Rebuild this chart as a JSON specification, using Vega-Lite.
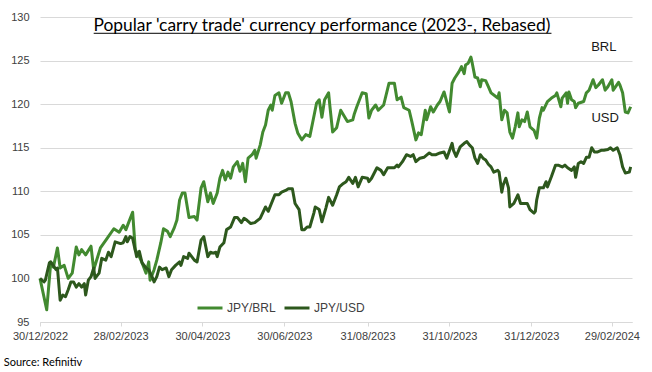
{
  "$schema": "https://vega.github.io/schema/vega-lite/v6.json",
  "width": 592,
  "height": 305,
  "autosize": "none",
  "padding": {"left": 40, "top": 17, "right": 20, "bottom": 50},
  "background": "white",
  "data": {"values": [{}]},
  "config": {
    "view": {"stroke": null},
    "font": "Liberation Sans"
  },
  "datasets": {
    "fx": [
      {"d":"2022-12-30","s":"JPY/BRL","v":100.0},
      {"d":"2023-01-04","s":"JPY/BRL","v":96.4},
      {"d":"2023-01-07","s":"JPY/BRL","v":101.8},
      {"d":"2023-01-09","s":"JPY/BRL","v":101.3},
      {"d":"2023-01-12","s":"JPY/BRL","v":103.5},
      {"d":"2023-01-14","s":"JPY/BRL","v":101.2},
      {"d":"2023-01-17","s":"JPY/BRL","v":101.5},
      {"d":"2023-01-20","s":"JPY/BRL","v":100.0},
      {"d":"2023-01-23","s":"JPY/BRL","v":100.6},
      {"d":"2023-01-26","s":"JPY/BRL","v":103.6},
      {"d":"2023-01-28","s":"JPY/BRL","v":102.7},
      {"d":"2023-01-30","s":"JPY/BRL","v":103.3},
      {"d":"2023-02-02","s":"JPY/BRL","v":102.7},
      {"d":"2023-02-06","s":"JPY/BRL","v":103.7},
      {"d":"2023-02-08","s":"JPY/BRL","v":101.0},
      {"d":"2023-02-13","s":"JPY/BRL","v":103.5},
      {"d":"2023-02-18","s":"JPY/BRL","v":104.6},
      {"d":"2023-02-23","s":"JPY/BRL","v":105.7},
      {"d":"2023-02-27","s":"JPY/BRL","v":105.3},
      {"d":"2023-03-02","s":"JPY/BRL","v":106.1},
      {"d":"2023-03-04","s":"JPY/BRL","v":105.6},
      {"d":"2023-03-06","s":"JPY/BRL","v":106.4},
      {"d":"2023-03-09","s":"JPY/BRL","v":107.6},
      {"d":"2023-03-11","s":"JPY/BRL","v":103.3},
      {"d":"2023-03-14","s":"JPY/BRL","v":102.5},
      {"d":"2023-03-16","s":"JPY/BRL","v":101.8},
      {"d":"2023-03-19","s":"JPY/BRL","v":100.6},
      {"d":"2023-03-21","s":"JPY/BRL","v":101.9},
      {"d":"2023-03-22","s":"JPY/BRL","v":99.8},
      {"d":"2023-03-25","s":"JPY/BRL","v":101.0},
      {"d":"2023-03-27","s":"JPY/BRL","v":102.1},
      {"d":"2023-03-30","s":"JPY/BRL","v":104.1},
      {"d":"2023-04-01","s":"JPY/BRL","v":105.7},
      {"d":"2023-04-04","s":"JPY/BRL","v":105.4},
      {"d":"2023-04-06","s":"JPY/BRL","v":104.8},
      {"d":"2023-04-09","s":"JPY/BRL","v":105.8},
      {"d":"2023-04-11","s":"JPY/BRL","v":106.7},
      {"d":"2023-04-13","s":"JPY/BRL","v":109.0},
      {"d":"2023-04-15","s":"JPY/BRL","v":109.8},
      {"d":"2023-04-17","s":"JPY/BRL","v":109.8},
      {"d":"2023-04-20","s":"JPY/BRL","v":107.0},
      {"d":"2023-04-24","s":"JPY/BRL","v":107.1},
      {"d":"2023-04-26","s":"JPY/BRL","v":106.7},
      {"d":"2023-04-29","s":"JPY/BRL","v":110.4},
      {"d":"2023-05-01","s":"JPY/BRL","v":111.1},
      {"d":"2023-05-04","s":"JPY/BRL","v":108.8},
      {"d":"2023-05-06","s":"JPY/BRL","v":109.8},
      {"d":"2023-05-08","s":"JPY/BRL","v":108.6},
      {"d":"2023-05-11","s":"JPY/BRL","v":109.8},
      {"d":"2023-05-13","s":"JPY/BRL","v":111.5},
      {"d":"2023-05-15","s":"JPY/BRL","v":112.4},
      {"d":"2023-05-17","s":"JPY/BRL","v":111.3},
      {"d":"2023-05-19","s":"JPY/BRL","v":112.2},
      {"d":"2023-05-21","s":"JPY/BRL","v":111.5},
      {"d":"2023-05-23","s":"JPY/BRL","v":112.8},
      {"d":"2023-05-26","s":"JPY/BRL","v":113.4},
      {"d":"2023-05-28","s":"JPY/BRL","v":112.3},
      {"d":"2023-05-30","s":"JPY/BRL","v":113.2},
      {"d":"2023-06-01","s":"JPY/BRL","v":111.1},
      {"d":"2023-06-03","s":"JPY/BRL","v":113.8},
      {"d":"2023-06-06","s":"JPY/BRL","v":114.2},
      {"d":"2023-06-08","s":"JPY/BRL","v":114.7},
      {"d":"2023-06-09","s":"JPY/BRL","v":113.8},
      {"d":"2023-06-12","s":"JPY/BRL","v":115.3},
      {"d":"2023-06-14","s":"JPY/BRL","v":116.8},
      {"d":"2023-06-16","s":"JPY/BRL","v":117.6},
      {"d":"2023-06-18","s":"JPY/BRL","v":119.3},
      {"d":"2023-06-20","s":"JPY/BRL","v":119.9},
      {"d":"2023-06-21","s":"JPY/BRL","v":119.3},
      {"d":"2023-06-23","s":"JPY/BRL","v":121.0},
      {"d":"2023-06-26","s":"JPY/BRL","v":121.3},
      {"d":"2023-06-28","s":"JPY/BRL","v":120.1},
      {"d":"2023-07-01","s":"JPY/BRL","v":121.3},
      {"d":"2023-07-03","s":"JPY/BRL","v":121.3},
      {"d":"2023-07-05","s":"JPY/BRL","v":120.3},
      {"d":"2023-07-08","s":"JPY/BRL","v":117.8},
      {"d":"2023-07-10","s":"JPY/BRL","v":116.7},
      {"d":"2023-07-13","s":"JPY/BRL","v":115.9},
      {"d":"2023-07-16","s":"JPY/BRL","v":116.5},
      {"d":"2023-07-19","s":"JPY/BRL","v":116.3},
      {"d":"2023-07-21","s":"JPY/BRL","v":117.8},
      {"d":"2023-07-24","s":"JPY/BRL","v":120.1},
      {"d":"2023-07-26","s":"JPY/BRL","v":120.5},
      {"d":"2023-07-28","s":"JPY/BRL","v":118.5},
      {"d":"2023-07-30","s":"JPY/BRL","v":120.5},
      {"d":"2023-08-02","s":"JPY/BRL","v":121.3},
      {"d":"2023-08-03","s":"JPY/BRL","v":119.7},
      {"d":"2023-08-05","s":"JPY/BRL","v":116.8},
      {"d":"2023-08-08","s":"JPY/BRL","v":117.3},
      {"d":"2023-08-11","s":"JPY/BRL","v":119.3},
      {"d":"2023-08-16","s":"JPY/BRL","v":118.0},
      {"d":"2023-08-20","s":"JPY/BRL","v":118.2},
      {"d":"2023-08-21","s":"JPY/BRL","v":118.8},
      {"d":"2023-08-23","s":"JPY/BRL","v":119.7},
      {"d":"2023-08-27","s":"JPY/BRL","v":121.3},
      {"d":"2023-08-30","s":"JPY/BRL","v":121.2},
      {"d":"2023-09-01","s":"JPY/BRL","v":118.4},
      {"d":"2023-09-03","s":"JPY/BRL","v":119.3},
      {"d":"2023-09-06","s":"JPY/BRL","v":119.9},
      {"d":"2023-09-08","s":"JPY/BRL","v":119.3},
      {"d":"2023-09-12","s":"JPY/BRL","v":119.9},
      {"d":"2023-09-16","s":"JPY/BRL","v":122.4},
      {"d":"2023-09-20","s":"JPY/BRL","v":122.4},
      {"d":"2023-09-22","s":"JPY/BRL","v":120.5},
      {"d":"2023-09-25","s":"JPY/BRL","v":120.8},
      {"d":"2023-09-27","s":"JPY/BRL","v":119.6},
      {"d":"2023-10-01","s":"JPY/BRL","v":119.3},
      {"d":"2023-10-03","s":"JPY/BRL","v":118.0},
      {"d":"2023-10-06","s":"JPY/BRL","v":115.9},
      {"d":"2023-10-08","s":"JPY/BRL","v":116.7},
      {"d":"2023-10-10","s":"JPY/BRL","v":116.5},
      {"d":"2023-10-13","s":"JPY/BRL","v":119.3},
      {"d":"2023-10-14","s":"JPY/BRL","v":118.2},
      {"d":"2023-10-17","s":"JPY/BRL","v":119.7},
      {"d":"2023-10-19","s":"JPY/BRL","v":119.1},
      {"d":"2023-10-22","s":"JPY/BRL","v":119.9},
      {"d":"2023-10-24","s":"JPY/BRL","v":120.3},
      {"d":"2023-10-27","s":"JPY/BRL","v":121.4},
      {"d":"2023-10-31","s":"JPY/BRL","v":119.1},
      {"d":"2023-11-02","s":"JPY/BRL","v":122.4},
      {"d":"2023-11-04","s":"JPY/BRL","v":123.0},
      {"d":"2023-11-07","s":"JPY/BRL","v":123.7},
      {"d":"2023-11-09","s":"JPY/BRL","v":124.3},
      {"d":"2023-11-11","s":"JPY/BRL","v":123.5},
      {"d":"2023-11-12","s":"JPY/BRL","v":124.5},
      {"d":"2023-11-14","s":"JPY/BRL","v":124.7},
      {"d":"2023-11-16","s":"JPY/BRL","v":125.4},
      {"d":"2023-11-17","s":"JPY/BRL","v":124.7},
      {"d":"2023-11-19","s":"JPY/BRL","v":123.1},
      {"d":"2023-11-21","s":"JPY/BRL","v":123.0},
      {"d":"2023-11-23","s":"JPY/BRL","v":122.0},
      {"d":"2023-11-24","s":"JPY/BRL","v":122.8},
      {"d":"2023-11-27","s":"JPY/BRL","v":122.7},
      {"d":"2023-11-29","s":"JPY/BRL","v":122.0},
      {"d":"2023-12-01","s":"JPY/BRL","v":121.3},
      {"d":"2023-12-06","s":"JPY/BRL","v":120.7},
      {"d":"2023-12-07","s":"JPY/BRL","v":121.3},
      {"d":"2023-12-09","s":"JPY/BRL","v":118.2},
      {"d":"2023-12-11","s":"JPY/BRL","v":119.3},
      {"d":"2023-12-13","s":"JPY/BRL","v":119.0},
      {"d":"2023-12-15","s":"JPY/BRL","v":116.8},
      {"d":"2023-12-17","s":"JPY/BRL","v":116.1},
      {"d":"2023-12-19","s":"JPY/BRL","v":117.4},
      {"d":"2023-12-21","s":"JPY/BRL","v":119.0},
      {"d":"2023-12-22","s":"JPY/BRL","v":117.4},
      {"d":"2023-12-24","s":"JPY/BRL","v":118.2},
      {"d":"2023-12-26","s":"JPY/BRL","v":118.0},
      {"d":"2023-12-28","s":"JPY/BRL","v":119.1},
      {"d":"2023-12-30","s":"JPY/BRL","v":117.4},
      {"d":"2024-01-02","s":"JPY/BRL","v":117.0},
      {"d":"2024-01-04","s":"JPY/BRL","v":116.1},
      {"d":"2024-01-06","s":"JPY/BRL","v":118.4},
      {"d":"2024-01-08","s":"JPY/BRL","v":119.6},
      {"d":"2024-01-09","s":"JPY/BRL","v":119.3},
      {"d":"2024-01-12","s":"JPY/BRL","v":120.3},
      {"d":"2024-01-15","s":"JPY/BRL","v":120.7},
      {"d":"2024-01-18","s":"JPY/BRL","v":121.0},
      {"d":"2024-01-19","s":"JPY/BRL","v":121.3},
      {"d":"2024-01-22","s":"JPY/BRL","v":119.7},
      {"d":"2024-01-23","s":"JPY/BRL","v":120.7},
      {"d":"2024-01-26","s":"JPY/BRL","v":121.3},
      {"d":"2024-01-27","s":"JPY/BRL","v":120.1},
      {"d":"2024-01-28","s":"JPY/BRL","v":121.4},
      {"d":"2024-01-30","s":"JPY/BRL","v":120.5},
      {"d":"2024-02-01","s":"JPY/BRL","v":120.3},
      {"d":"2024-02-02","s":"JPY/BRL","v":119.6},
      {"d":"2024-02-04","s":"JPY/BRL","v":120.1},
      {"d":"2024-02-08","s":"JPY/BRL","v":120.3},
      {"d":"2024-02-10","s":"JPY/BRL","v":121.3},
      {"d":"2024-02-12","s":"JPY/BRL","v":121.6},
      {"d":"2024-02-15","s":"JPY/BRL","v":122.8},
      {"d":"2024-02-17","s":"JPY/BRL","v":121.9},
      {"d":"2024-02-19","s":"JPY/BRL","v":122.2},
      {"d":"2024-02-22","s":"JPY/BRL","v":122.8},
      {"d":"2024-02-24","s":"JPY/BRL","v":121.6},
      {"d":"2024-02-26","s":"JPY/BRL","v":122.0},
      {"d":"2024-02-29","s":"JPY/BRL","v":122.8},
      {"d":"2024-03-01","s":"JPY/BRL","v":121.6},
      {"d":"2024-03-05","s":"JPY/BRL","v":122.5},
      {"d":"2024-03-06","s":"JPY/BRL","v":122.2},
      {"d":"2024-03-08","s":"JPY/BRL","v":121.3},
      {"d":"2024-03-10","s":"JPY/BRL","v":119.1},
      {"d":"2024-03-12","s":"JPY/BRL","v":119.0},
      {"d":"2024-03-14","s":"JPY/BRL","v":119.7},
      {"d":"2022-12-30","s":"JPY/USD","v":100.0},
      {"d":"2023-01-02","s":"JPY/USD","v":99.6},
      {"d":"2023-01-03","s":"JPY/USD","v":99.8},
      {"d":"2023-01-06","s":"JPY/USD","v":101.8},
      {"d":"2023-01-07","s":"JPY/USD","v":101.9},
      {"d":"2023-01-11","s":"JPY/USD","v":101.0},
      {"d":"2023-01-12","s":"JPY/USD","v":101.2},
      {"d":"2023-01-14","s":"JPY/USD","v":97.5},
      {"d":"2023-01-16","s":"JPY/USD","v":98.1},
      {"d":"2023-01-18","s":"JPY/USD","v":97.9},
      {"d":"2023-01-20","s":"JPY/USD","v":98.7},
      {"d":"2023-01-22","s":"JPY/USD","v":99.6},
      {"d":"2023-01-24","s":"JPY/USD","v":99.6},
      {"d":"2023-01-26","s":"JPY/USD","v":99.0},
      {"d":"2023-01-28","s":"JPY/USD","v":99.4},
      {"d":"2023-01-30","s":"JPY/USD","v":99.0},
      {"d":"2023-02-01","s":"JPY/USD","v":99.4},
      {"d":"2023-02-02","s":"JPY/USD","v":98.1},
      {"d":"2023-02-04","s":"JPY/USD","v":99.8},
      {"d":"2023-02-06","s":"JPY/USD","v":100.2},
      {"d":"2023-02-08","s":"JPY/USD","v":101.2},
      {"d":"2023-02-09","s":"JPY/USD","v":100.0},
      {"d":"2023-02-12","s":"JPY/USD","v":100.6},
      {"d":"2023-02-14","s":"JPY/USD","v":102.3},
      {"d":"2023-02-17","s":"JPY/USD","v":102.1},
      {"d":"2023-02-19","s":"JPY/USD","v":103.0},
      {"d":"2023-02-21","s":"JPY/USD","v":102.5},
      {"d":"2023-02-24","s":"JPY/USD","v":104.2},
      {"d":"2023-02-28","s":"JPY/USD","v":104.0},
      {"d":"2023-03-02","s":"JPY/USD","v":104.1},
      {"d":"2023-03-04","s":"JPY/USD","v":104.8},
      {"d":"2023-03-05","s":"JPY/USD","v":104.2},
      {"d":"2023-03-07","s":"JPY/USD","v":104.8},
      {"d":"2023-03-09","s":"JPY/USD","v":104.6},
      {"d":"2023-03-12","s":"JPY/USD","v":102.5},
      {"d":"2023-03-14","s":"JPY/USD","v":103.1},
      {"d":"2023-03-16","s":"JPY/USD","v":101.8},
      {"d":"2023-03-19","s":"JPY/USD","v":101.2},
      {"d":"2023-03-21","s":"JPY/USD","v":101.0},
      {"d":"2023-03-24","s":"JPY/USD","v":100.0},
      {"d":"2023-03-25","s":"JPY/USD","v":99.6},
      {"d":"2023-03-27","s":"JPY/USD","v":100.2},
      {"d":"2023-03-29","s":"JPY/USD","v":101.3},
      {"d":"2023-03-31","s":"JPY/USD","v":101.0},
      {"d":"2023-04-03","s":"JPY/USD","v":101.2},
      {"d":"2023-04-05","s":"JPY/USD","v":100.2},
      {"d":"2023-04-07","s":"JPY/USD","v":101.0},
      {"d":"2023-04-10","s":"JPY/USD","v":101.5},
      {"d":"2023-04-13","s":"JPY/USD","v":101.9},
      {"d":"2023-04-14","s":"JPY/USD","v":101.5},
      {"d":"2023-04-16","s":"JPY/USD","v":102.5},
      {"d":"2023-04-19","s":"JPY/USD","v":102.3},
      {"d":"2023-04-20","s":"JPY/USD","v":102.9},
      {"d":"2023-04-24","s":"JPY/USD","v":102.1},
      {"d":"2023-04-26","s":"JPY/USD","v":101.9},
      {"d":"2023-04-29","s":"JPY/USD","v":104.4},
      {"d":"2023-05-01","s":"JPY/USD","v":104.8},
      {"d":"2023-05-04","s":"JPY/USD","v":102.5},
      {"d":"2023-05-06","s":"JPY/USD","v":103.0},
      {"d":"2023-05-08","s":"JPY/USD","v":102.9},
      {"d":"2023-05-10","s":"JPY/USD","v":103.0},
      {"d":"2023-05-11","s":"JPY/USD","v":102.5},
      {"d":"2023-05-13","s":"JPY/USD","v":103.6},
      {"d":"2023-05-16","s":"JPY/USD","v":104.1},
      {"d":"2023-05-18","s":"JPY/USD","v":105.6},
      {"d":"2023-05-21","s":"JPY/USD","v":105.9},
      {"d":"2023-05-24","s":"JPY/USD","v":107.0},
      {"d":"2023-05-26","s":"JPY/USD","v":107.0},
      {"d":"2023-05-29","s":"JPY/USD","v":106.4},
      {"d":"2023-05-31","s":"JPY/USD","v":106.9},
      {"d":"2023-06-02","s":"JPY/USD","v":106.7},
      {"d":"2023-06-05","s":"JPY/USD","v":106.3},
      {"d":"2023-06-08","s":"JPY/USD","v":106.4},
      {"d":"2023-06-12","s":"JPY/USD","v":106.9},
      {"d":"2023-06-16","s":"JPY/USD","v":108.2},
      {"d":"2023-06-18","s":"JPY/USD","v":107.7},
      {"d":"2023-06-23","s":"JPY/USD","v":109.6},
      {"d":"2023-06-26","s":"JPY/USD","v":109.6},
      {"d":"2023-06-28","s":"JPY/USD","v":109.9},
      {"d":"2023-07-01","s":"JPY/USD","v":110.1},
      {"d":"2023-07-03","s":"JPY/USD","v":110.3},
      {"d":"2023-07-06","s":"JPY/USD","v":110.3},
      {"d":"2023-07-08","s":"JPY/USD","v":108.6},
      {"d":"2023-07-11","s":"JPY/USD","v":107.9},
      {"d":"2023-07-13","s":"JPY/USD","v":105.6},
      {"d":"2023-07-15","s":"JPY/USD","v":105.6},
      {"d":"2023-07-17","s":"JPY/USD","v":105.9},
      {"d":"2023-07-19","s":"JPY/USD","v":105.9},
      {"d":"2023-07-22","s":"JPY/USD","v":107.5},
      {"d":"2023-07-23","s":"JPY/USD","v":108.2},
      {"d":"2023-07-26","s":"JPY/USD","v":107.9},
      {"d":"2023-07-28","s":"JPY/USD","v":106.5},
      {"d":"2023-07-31","s":"JPY/USD","v":108.1},
      {"d":"2023-08-02","s":"JPY/USD","v":109.3},
      {"d":"2023-08-05","s":"JPY/USD","v":108.4},
      {"d":"2023-08-08","s":"JPY/USD","v":109.6},
      {"d":"2023-08-10","s":"JPY/USD","v":110.5},
      {"d":"2023-08-13","s":"JPY/USD","v":110.9},
      {"d":"2023-08-15","s":"JPY/USD","v":111.1},
      {"d":"2023-08-17","s":"JPY/USD","v":111.6},
      {"d":"2023-08-20","s":"JPY/USD","v":110.9},
      {"d":"2023-08-22","s":"JPY/USD","v":111.6},
      {"d":"2023-08-24","s":"JPY/USD","v":110.5},
      {"d":"2023-08-27","s":"JPY/USD","v":111.6},
      {"d":"2023-08-31","s":"JPY/USD","v":111.5},
      {"d":"2023-09-01","s":"JPY/USD","v":111.1},
      {"d":"2023-09-03","s":"JPY/USD","v":111.5},
      {"d":"2023-09-07","s":"JPY/USD","v":112.7},
      {"d":"2023-09-10","s":"JPY/USD","v":112.4},
      {"d":"2023-09-12","s":"JPY/USD","v":111.9},
      {"d":"2023-09-15","s":"JPY/USD","v":112.7},
      {"d":"2023-09-17","s":"JPY/USD","v":112.7},
      {"d":"2023-09-20","s":"JPY/USD","v":112.7},
      {"d":"2023-09-22","s":"JPY/USD","v":113.0},
      {"d":"2023-09-23","s":"JPY/USD","v":112.8},
      {"d":"2023-09-26","s":"JPY/USD","v":113.4},
      {"d":"2023-09-29","s":"JPY/USD","v":114.2},
      {"d":"2023-10-02","s":"JPY/USD","v":114.0},
      {"d":"2023-10-04","s":"JPY/USD","v":114.2},
      {"d":"2023-10-06","s":"JPY/USD","v":113.4},
      {"d":"2023-10-09","s":"JPY/USD","v":113.8},
      {"d":"2023-10-12","s":"JPY/USD","v":113.9},
      {"d":"2023-10-16","s":"JPY/USD","v":114.4},
      {"d":"2023-10-18","s":"JPY/USD","v":114.2},
      {"d":"2023-10-21","s":"JPY/USD","v":114.2},
      {"d":"2023-10-24","s":"JPY/USD","v":114.4},
      {"d":"2023-10-27","s":"JPY/USD","v":114.5},
      {"d":"2023-10-29","s":"JPY/USD","v":113.8},
      {"d":"2023-11-02","s":"JPY/USD","v":115.5},
      {"d":"2023-11-03","s":"JPY/USD","v":114.7},
      {"d":"2023-11-05","s":"JPY/USD","v":114.0},
      {"d":"2023-11-08","s":"JPY/USD","v":115.1},
      {"d":"2023-11-11","s":"JPY/USD","v":115.5},
      {"d":"2023-11-13","s":"JPY/USD","v":115.7},
      {"d":"2023-11-15","s":"JPY/USD","v":115.3},
      {"d":"2023-11-17","s":"JPY/USD","v":115.0},
      {"d":"2023-11-19","s":"JPY/USD","v":113.8},
      {"d":"2023-11-21","s":"JPY/USD","v":113.2},
      {"d":"2023-11-23","s":"JPY/USD","v":114.2},
      {"d":"2023-11-25","s":"JPY/USD","v":113.8},
      {"d":"2023-11-27","s":"JPY/USD","v":113.6},
      {"d":"2023-11-29","s":"JPY/USD","v":113.1},
      {"d":"2023-12-01","s":"JPY/USD","v":112.8},
      {"d":"2023-12-03","s":"JPY/USD","v":112.2},
      {"d":"2023-12-06","s":"JPY/USD","v":112.4},
      {"d":"2023-12-07","s":"JPY/USD","v":112.2},
      {"d":"2023-12-09","s":"JPY/USD","v":109.9},
      {"d":"2023-12-10","s":"JPY/USD","v":110.7},
      {"d":"2023-12-12","s":"JPY/USD","v":111.5},
      {"d":"2023-12-14","s":"JPY/USD","v":110.4},
      {"d":"2023-12-15","s":"JPY/USD","v":108.2},
      {"d":"2023-12-18","s":"JPY/USD","v":108.6},
      {"d":"2023-12-21","s":"JPY/USD","v":109.6},
      {"d":"2023-12-23","s":"JPY/USD","v":108.6},
      {"d":"2023-12-25","s":"JPY/USD","v":108.6},
      {"d":"2023-12-28","s":"JPY/USD","v":108.6},
      {"d":"2023-12-30","s":"JPY/USD","v":107.9},
      {"d":"2024-01-02","s":"JPY/USD","v":107.5},
      {"d":"2024-01-03","s":"JPY/USD","v":107.7},
      {"d":"2024-01-04","s":"JPY/USD","v":109.0},
      {"d":"2024-01-06","s":"JPY/USD","v":110.4},
      {"d":"2024-01-09","s":"JPY/USD","v":110.4},
      {"d":"2024-01-11","s":"JPY/USD","v":111.1},
      {"d":"2024-01-12","s":"JPY/USD","v":110.5},
      {"d":"2024-01-14","s":"JPY/USD","v":111.3},
      {"d":"2024-01-15","s":"JPY/USD","v":111.7},
      {"d":"2024-01-18","s":"JPY/USD","v":113.0},
      {"d":"2024-01-20","s":"JPY/USD","v":113.0},
      {"d":"2024-01-23","s":"JPY/USD","v":112.8},
      {"d":"2024-01-25","s":"JPY/USD","v":113.0},
      {"d":"2024-01-27","s":"JPY/USD","v":112.7},
      {"d":"2024-01-30","s":"JPY/USD","v":112.4},
      {"d":"2024-02-01","s":"JPY/USD","v":112.8},
      {"d":"2024-02-02","s":"JPY/USD","v":111.6},
      {"d":"2024-02-04","s":"JPY/USD","v":113.2},
      {"d":"2024-02-06","s":"JPY/USD","v":113.4},
      {"d":"2024-02-08","s":"JPY/USD","v":113.2},
      {"d":"2024-02-10","s":"JPY/USD","v":113.9},
      {"d":"2024-02-12","s":"JPY/USD","v":113.9},
      {"d":"2024-02-14","s":"JPY/USD","v":115.0},
      {"d":"2024-02-16","s":"JPY/USD","v":114.5},
      {"d":"2024-02-18","s":"JPY/USD","v":114.5},
      {"d":"2024-02-21","s":"JPY/USD","v":114.7},
      {"d":"2024-02-23","s":"JPY/USD","v":114.7},
      {"d":"2024-02-26","s":"JPY/USD","v":114.8},
      {"d":"2024-02-28","s":"JPY/USD","v":115.0},
      {"d":"2024-03-01","s":"JPY/USD","v":114.7},
      {"d":"2024-03-04","s":"JPY/USD","v":115.0},
      {"d":"2024-03-06","s":"JPY/USD","v":114.2},
      {"d":"2024-03-08","s":"JPY/USD","v":112.8},
      {"d":"2024-03-10","s":"JPY/USD","v":112.1},
      {"d":"2024-03-13","s":"JPY/USD","v":112.2},
      {"d":"2024-03-14","s":"JPY/USD","v":112.8}
    ]
  },
  "layer": [
    {
      "data": {"name": "fx"},
      "mark": {"type": "line", "strokeWidth": 3, "strokeJoin": "round"},
      "encoding": {
        "x": {
          "field": "d",
          "type": "temporal",
          "scale": {
            "type": "utc",
            "domain": [
              {"year": 2022, "month": 12, "date": 30, "utc": true},
              {"year": 2024, "month": 3, "date": 15, "utc": true}
            ]
          },
          "axis": {
            "title": null,
            "values": [
              {"year": 2022, "month": 12, "date": 30, "utc": true},
              {"year": 2023, "month": 2, "date": 28, "utc": true},
              {"year": 2023, "month": 4, "date": 30, "utc": true},
              {"year": 2023, "month": 6, "date": 30, "utc": true},
              {"year": 2023, "month": 8, "date": 31, "utc": true},
              {"year": 2023, "month": 10, "date": 31, "utc": true},
              {"year": 2023, "month": 12, "date": 31, "utc": true},
              {"year": 2024, "month": 2, "date": 29, "utc": true}
            ],
            "labelExpr": "utcFormat(datum.value, '%d/%m/%Y')",
            "grid": false,
            "domainColor": "#d9d9d9",
            "tickColor": "#d9d9d9",
            "tickSize": 4,
            "labelPadding": 4,
            "labelFont": "Liberation Sans",
            "labelFontSize": 11,
            "labelColor": "#404040",
            "labelOverlap": false,
            "labelFlush": false
          }
        },
        "y": {
          "field": "v",
          "type": "quantitative",
          "scale": {"domain": [95, 130], "zero": false, "nice": false},
          "axis": {
            "title": null,
            "values": [95, 100, 105, 110, 115, 120, 125, 130],
            "domain": false,
            "ticks": false,
            "tickSize": 0,
            "labelPadding": 11,
            "gridColor": "#d9d9d9",
            "gridWidth": 1,
            "labelFont": "Liberation Sans",
            "labelFontSize": 11,
            "labelColor": "#404040"
          }
        },
        "color": {
          "field": "s",
          "type": "nominal",
          "scale": {"domain": ["JPY/BRL", "JPY/USD"], "range": ["#428a30", "#2d581d"]},
          "legend": {
            "title": null,
            "orient": "none",
            "legendX": 156,
            "legendY": 277,
            "direction": "horizontal",
            "symbolType": "stroke",
            "symbolSize": 625,
            "symbolStrokeWidth": 3,
            "labelFont": "Liberation Sans",
            "labelFontSize": 12,
            "labelColor": "#404040",
            "labelOffset": 3,
            "columnPadding": 2
          }
        }
      }
    },
    {
      "mark": {"type": "text", "font": "Lato", "fontSize": 17.4, "color": "#000000", "align": "center", "baseline": "alphabetic"},
      "encoding": {
        "x": {"datum": {"year": 2023, "month": 7, "date": 28, "utc": true}, "type": "temporal"},
        "y": {"datum": 128.43, "type": "quantitative"},
        "text": {"value": "Popular 'carry trade' currency performance (2023-, Rebased)"}
      }
    },
    {
      "mark": {"type": "rule", "stroke": "#000000", "strokeWidth": 1},
      "encoding": {
        "x": {"datum": {"year": 2023, "month": 2, "date": 8, "utc": true}, "type": "temporal"},
        "x2": {"datum": {"year": 2024, "month": 1, "date": 15, "utc": true}},
        "y": {"datum": 128.13, "type": "quantitative"}
      }
    },
    {
      "mark": {"type": "text", "font": "Liberation Sans", "fontSize": 13, "color": "#1a1a1a", "align": "center", "baseline": "middle"},
      "encoding": {
        "x": {"datum": {"year": 2024, "month": 2, "date": 23, "utc": true}, "type": "temporal"},
        "y": {"datum": 126.6, "type": "quantitative"},
        "text": {"value": "BRL"}
      }
    },
    {
      "mark": {"type": "text", "font": "Liberation Sans", "fontSize": 13, "color": "#1a1a1a", "align": "center", "baseline": "middle"},
      "encoding": {
        "x": {"datum": {"year": 2024, "month": 2, "date": 24, "utc": true}, "type": "temporal"},
        "y": {"datum": 118.4, "type": "quantitative"},
        "text": {"value": "USD"}
      }
    },
    {
      "mark": {"type": "text", "font": "Lato", "fontSize": 11, "color": "#000000", "align": "left", "baseline": "middle"},
      "encoding": {
        "x": {"datum": {"year": 2022, "month": 12, "date": 3, "utc": true}, "type": "temporal"},
        "y": {"datum": 90.3, "type": "quantitative"},
        "text": {"value": "Source: Refinitiv"}
      }
    }
  ]
}
